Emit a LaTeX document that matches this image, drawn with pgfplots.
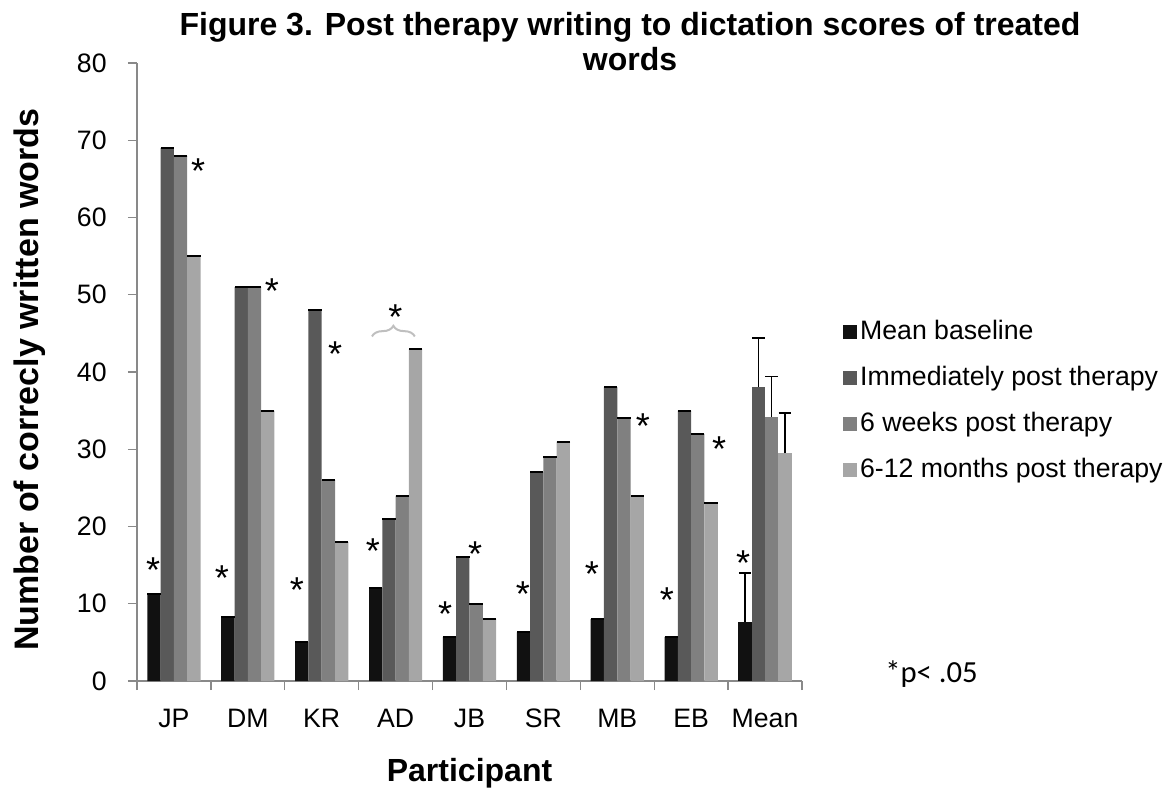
\documentclass[border=0pt]{standalone}
\usepackage{pgfplots}
\usepackage{pgfplotstable}
\pgfplotsset{compat=1.18}
\usepackage{fontspec}
\setmainfont{Liberation Sans}
\newfontfamily\calibri{Carlito}
\usetikzlibrary{decorations.pathreplacing}

\definecolor{cA}{HTML}{111111}
\definecolor{cB}{HTML}{595959}
\definecolor{cC}{HTML}{808080}
\definecolor{cD}{HTML}{A6A6A6}
\definecolor{axgray}{HTML}{898989}
\definecolor{bracegray}{HTML}{BFBFBF}

% participants (x = group position)
\pgfplotstableread{
x  base  imm  wk6  mo12
0  11.3  69   68   55
1  8.3   51   51   35
2  5.0   48   26   18
3  12.0  21   24   43
4  5.7   16   10   8
5  6.3   27   29   31
6  8.0   38   34   24
7  5.7   35   32   23
}\parttable
% group mean with (plus) error
\pgfplotstableread{
x  y     err
-0.27 7.7   6.3
-0.09 38.1  6.3
0.09  34.2  5.2
0.27  29.5  5.2
}\meantable

\tikzset{ast/.style={anchor=base, yshift=-15pt, inner sep=0pt, font=\fontsize{27}{31}\selectfont}}

\begin{document}
\begin{tikzpicture}
\path[use as bounding box] (-102.75pt,-81pt) rectangle (777.75pt,510.75pt);
\begin{axis}[
  at={(0pt,0pt)}, anchor=south west,
  scale only axis, width=498.75pt, height=463.5pt,
  xmin=-0.5, xmax=8.5, ymin=0, ymax=80,
  axis lines*=left,
  axis line style={draw=axgray, line width=1pt},
  tick align=outside,
  major tick length=6.75pt, minor tick length=6.75pt,
  every tick/.style={draw=axgray, line width=1pt},
  ytick={0,10,...,80},
  xtick={0,...,8},
  xticklabels={JP,DM,KR,AD,JB,SR,MB,EB,Mean},
  major x tick style={draw=none},
  minor xtick={-0.5,0.5,...,8.5},
  tick label style={font=\fontsize{20}{24}\selectfont},
  /pgf/number format/assume math mode=true,
  xticklabel style={text height=14.4pt, text depth=0pt, yshift=-10pt},
  yticklabel style={xshift=-12.5pt},
  bar width=0.18,
  legend style={at={(axis description cs:1.062,0.589)}, anchor=north west,
    draw=none, fill=none, inner sep=0pt, row sep=11.9pt,
    font=\fontsize{20}{24}\selectfont,
    nodes={inner sep=2pt, text height=14.4pt, text depth=4.2pt}},
  legend cell align=left,
  legend image code/.code={\fill[#1] (0pt,-5.25pt) rectangle (10.5pt,5.25pt);},
  capmark/.style={mark=-, mark size=5pt, mark options={draw=black, line width=1.5pt}},
  clip=false,
]
\addplot[ybar, bar shift=0pt, fill=cA, draw=none, capmark]
  table[x expr=\thisrow{x}-0.27, y=base] {\parttable};
\addplot[ybar, bar shift=0pt, fill=cB, draw=none, capmark]
  table[x expr=\thisrow{x}-0.09, y=imm] {\parttable};
\addplot[ybar, bar shift=0pt, fill=cC, draw=none, capmark]
  table[x expr=\thisrow{x}+0.09, y=wk6] {\parttable};
\addplot[ybar, bar shift=0pt, fill=cD, draw=none, capmark]
  table[x expr=\thisrow{x}+0.27, y=mo12] {\parttable};
\legend{Mean baseline, Immediately post therapy, 6 weeks post therapy, 6-12 months post therapy}
% Mean group with error bars (plus only)
\addplot[ybar, bar shift=0pt, fill=cA, draw=none, forget plot,
  error bars/.cd, y dir=plus, y explicit, error bar style={black, line width=1.2pt},
  error mark options={black, line width=1.2pt, mark size=4.7pt, rotate=90}]
  table[x expr=\thisrow{x}+8, y=y, y error=err, skip coords between index={1}{4}] {\meantable};
\addplot[ybar, bar shift=0pt, fill=cB, draw=none, forget plot,
  error bars/.cd, y dir=plus, y explicit, error bar style={black, line width=1.2pt},
  error mark options={black, line width=1.2pt, mark size=4.7pt, rotate=90}]
  table[x expr=\thisrow{x}+8, y=y, y error=err, skip coords between index={0}{1}, skip coords between index={2}{4}] {\meantable};
\addplot[ybar, bar shift=0pt, fill=cC, draw=none, forget plot,
  error bars/.cd, y dir=plus, y explicit, error bar style={black, line width=1.2pt},
  error mark options={black, line width=1.2pt, mark size=4.7pt, rotate=90}]
  table[x expr=\thisrow{x}+8, y=y, y error=err, skip coords between index={0}{2}, skip coords between index={3}{4}] {\meantable};
\addplot[ybar, bar shift=0pt, fill=cD, draw=none, forget plot,
  error bars/.cd, y dir=plus, y explicit, error bar style={black, line width=1.2pt},
  error mark options={black, line width=1.2pt, mark size=4.7pt, rotate=90}]
  table[x expr=\thisrow{x}+8, y=y, y error=err, skip coords between index={0}{3}] {\meantable};
% significance asterisks
\node[ast] at (axis cs:-0.283,15.40) {*};
\node[ast] at (axis cs:0.327,67.05) {*};
\node[ast] at (axis cs:0.650,14.24) {*};
\node[ast] at (axis cs:1.327,51.49) {*};
\node[ast] at (axis cs:1.665,12.69) {*};
\node[ast] at (axis cs:2.180,43.24) {*};
\node[ast] at (axis cs:2.694,17.86) {*};
\node[ast] at (axis cs:2.998,48.04) {*};
\node[ast] at (axis cs:3.669,9.58) {*};
\node[ast] at (axis cs:4.075,17.35) {*};
\node[ast] at (axis cs:4.724,12.17) {*};
\node[ast] at (axis cs:5.658,14.76) {*};
\node[ast] at (axis cs:6.348,34.04) {*};
\node[ast] at (axis cs:6.673,11.52) {*};
\node[ast] at (axis cs:7.377,30.94) {*};
\node[ast] at (axis cs:7.702,16.31) {*};
\draw[bracegray, line width=1.5pt, decorate, decoration={brace, amplitude=8pt}]
  (axis cs:2.68,44.6) -- (axis cs:3.26,44.6);
\end{axis}
% title
\node[anchor=base, inner sep=0pt, font=\bfseries\fontsize{24}{28}\selectfont] at (369.75pt,483.75pt)
  {Figure 3. Post therapy writing to dictation scores of treated};
\node[anchor=base, inner sep=0pt, font=\bfseries\fontsize{24}{28}\selectfont] at (369.75pt,457.5pt) {words};
% axis titles
\node[anchor=base, rotate=90, inner sep=0pt, font=\bfseries\fontsize{25.5}{30}\selectfont] at (-73.5pt,226pt)
  {Number of correcly written words};
\node[anchor=base, inner sep=0pt, font=\bfseries\fontsize{24}{28}\selectfont] at (249.4pt,-75pt) {Participant};
% note
\node[anchor=base west, inner sep=0pt, font=\calibri\fontsize{23}{27}\selectfont] at (561pt,-1pt) {*p< .05};
\end{tikzpicture}
\end{document}
